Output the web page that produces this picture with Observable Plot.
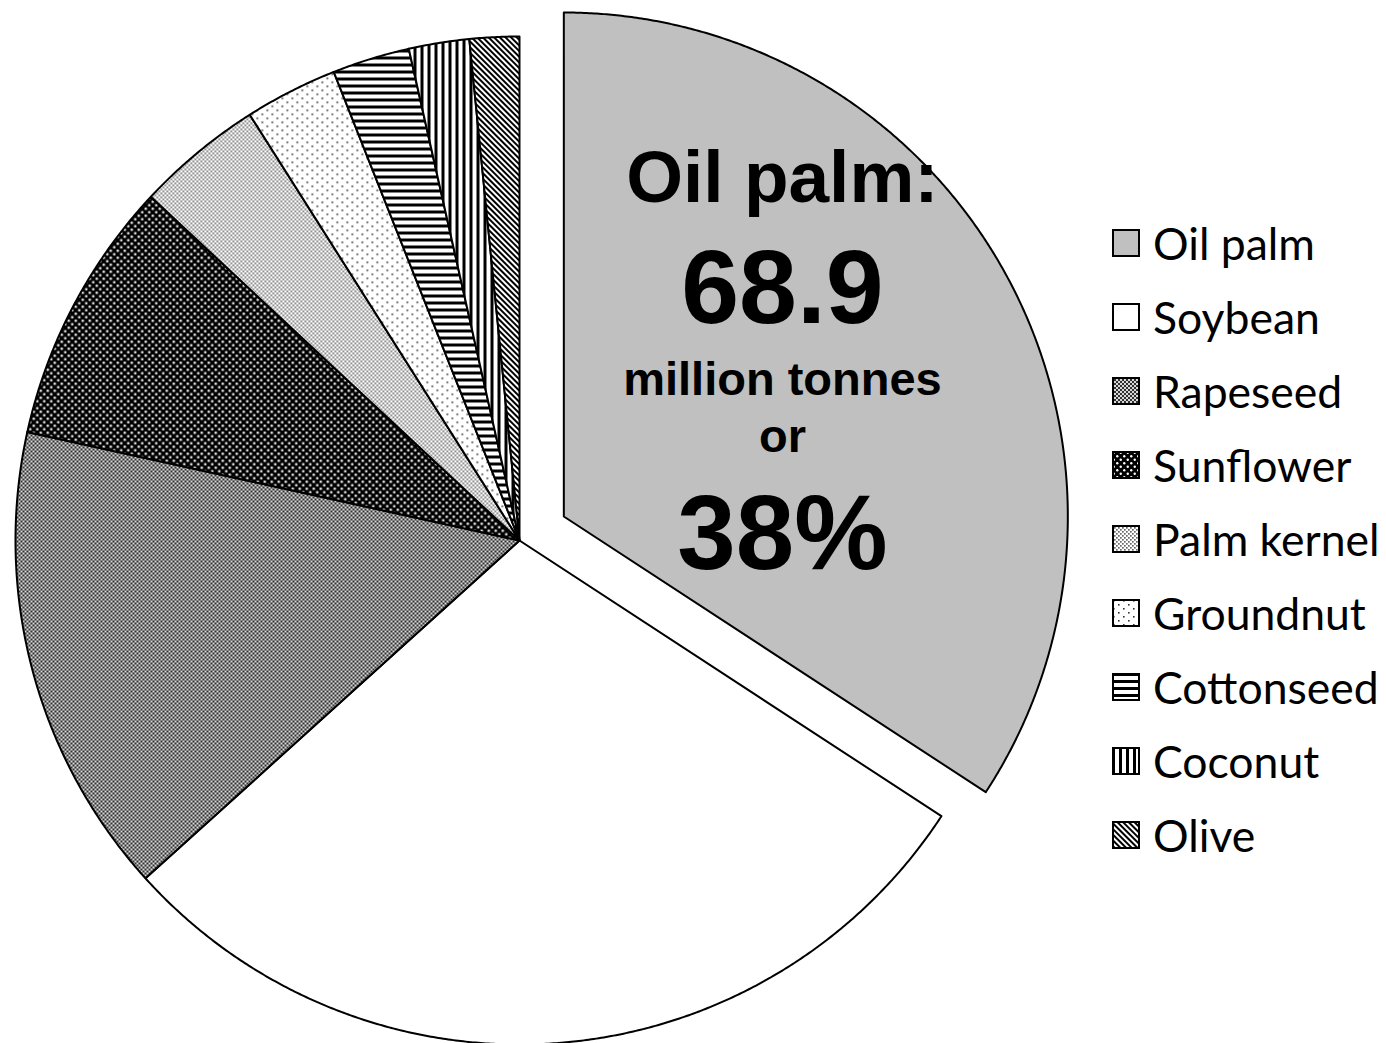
<!DOCTYPE html>
<html>
<head>
<meta charset="utf-8">
<script src="https://cdn.jsdelivr.net/npm/d3@7"></script>
<script src="https://cdn.jsdelivr.net/npm/@observablehq/plot@0.6"></script>
<style>
  html, body { margin: 0; padding: 0; background: #fff; }
  #wrap { position: relative; width: 1386px; height: 1043px; overflow: hidden; }
  #legend { position: absolute; left: 1112px; top: 206px; font-family: Lato, "Noto Sans", sans-serif; font-size: 44.5px; color: #000; }
  .row { display: flex; align-items: center; height: 74px; }
  .row svg { flex: none; margin-right: 13px; }
  .row span { line-height: 1; white-space: nowrap; }
</style>
</head>
<body>
<div id="wrap"><div id="legend"></div></div>
<script>
// ---- data ----
const crops = ["Oil palm", "Soybean", "Rapeseed", "Sunflower", "Palm kernel", "Groundnut", "Cottonseed", "Coconut", "Olive"];
const production = [68.9, 58.6, 30.5, 17.1, 8.2, 6.0, 5.0, 3.9, 3.2]; // million tonnes (pie angles)
const labelLines = ["Oil palm:", "68.9", "million tonnes", "or", "38%"];

// ---- styles ----
const fills = ["#c0c0c0", "#ffffff", "url(#p-rape)", "url(#p-sun)", "url(#p-pk)", "url(#p-gn)", "url(#p-cot)", "url(#p-coco)", "url(#p-olive)"];
const labelSizes = [73, 104, 47, 47, 105];
const labelDy = [-195, -74, -2, 55, 172];

const W = 1386, H = 1043, CX = 519, CY = 540, R = 504, EXPLODE = 0.1;

const arcs = d3.pie().sort(null).value(d => d)(production);
const slices = arcs.map((a, i) => {
  const mid = (a.startAngle + a.endAngle) / 2;
  const ox = i === 0 ? EXPLODE * Math.sin(mid) : 0;
  const oy = i === 0 ? EXPLODE * Math.cos(mid) : 0;
  const n = Math.max(4, Math.ceil((a.endAngle - a.startAngle) / 0.005));
  const pts = [{x: ox, y: oy}];
  for (let k = 0; k <= n; k++) {
    const t = a.startAngle + (a.endAngle - a.startAngle) * k / n;
    pts.push({x: ox + Math.sin(t), y: oy + Math.cos(t)});
  }
  return {name: crops[i], pts, mid, ox, oy};
});

// label anchor: half-radius point on the (exploded) oil palm slice
const s0 = slices[0];
const anchor = {x: s0.ox + 0.5 * Math.sin(s0.mid), y: s0.oy + 0.5 * Math.cos(s0.mid)};

const marks = slices.map((s, i) => Plot.line(s.pts, {
  x: "x", y: "y", curve: "linear-closed",
  fill: fills[i], stroke: "#000", strokeWidth: 2, strokeLinejoin: "round"
}));
labelLines.forEach((t, i) => {
  marks.push(Plot.text([anchor], {
    x: "x", y: "y", text: () => t, dx: -3, dy: labelDy[i], lineAnchor: "bottom",
    fontSize: labelSizes[i], fontWeight: "bold", fill: "#000",
    fontFamily: "'Liberation Sans', Arial, sans-serif"
  }));
});

const chart = Plot.plot({
  width: W, height: H, margin: 0,
  style: {background: "#fff", overflow: "hidden"},
  x: {domain: [-CX / R, (W - CX) / R], range: [0, W], axis: null},
  y: {domain: [(CY - H) / R, CY / R], range: [H, 0], axis: null},
  marks
});

const defs = `
<pattern id="p-rape" width="4" height="4" patternUnits="userSpaceOnUse">
  <rect width="4" height="4" fill="#d8d8d8"/><rect width="2" height="2" fill="#303030"/><rect x="2" y="2" width="2" height="2" fill="#303030"/>
</pattern>
<pattern id="p-sun" width="7" height="7" patternUnits="userSpaceOnUse">
  <rect width="7" height="7" fill="#000"/><circle cx="1.75" cy="1.75" r="1.2" fill="#fff"/><circle cx="5.25" cy="5.25" r="1.2" fill="#fff"/>
</pattern>
<pattern id="p-pk" width="4" height="4" patternUnits="userSpaceOnUse">
  <rect width="4" height="4" fill="#fff"/><rect width="1.7" height="1.7" fill="#6a6a6a"/><rect x="2" y="2" width="1.7" height="1.7" fill="#6a6a6a"/>
</pattern>
<pattern id="p-gn" width="10" height="8" patternUnits="userSpaceOnUse">
  <rect width="10" height="8" fill="#fff"/><rect x="1" y="1" width="1.6" height="1.6" fill="#333"/><rect x="6" y="5" width="1.6" height="1.6" fill="#333"/>
</pattern>
<pattern id="p-cot" width="8" height="7" patternUnits="userSpaceOnUse">
  <rect width="8" height="7" fill="#fff"/><rect width="8" height="3" fill="#000"/>
</pattern>
<pattern id="p-coco" width="7" height="8" patternUnits="userSpaceOnUse">
  <rect width="7" height="8" fill="#fff"/><rect width="3" height="8" fill="#000"/>
</pattern>
<pattern id="p-olive" width="4" height="4" patternUnits="userSpaceOnUse" patternTransform="rotate(45)">
  <rect width="4" height="4" fill="#fff"/><rect width="4" height="2" fill="#000"/>
</pattern>`;
d3.select(chart).insert("defs", ":first-child").html(defs);

document.getElementById("wrap").prepend(chart);

const legend = d3.select("#legend");
crops.forEach((c, i) => {
  const row = legend.append("div").attr("class", "row");
  const sw = row.append("svg").attr("width", 28).attr("height", 28);
  sw.append("rect").attr("x", 1).attr("y", 1).attr("width", 26).attr("height", 26)
    .attr("fill", fills[i]).attr("stroke", "#000").attr("stroke-width", 2);
  row.append("span").text(c);
});
</script>
</body>
</html>
